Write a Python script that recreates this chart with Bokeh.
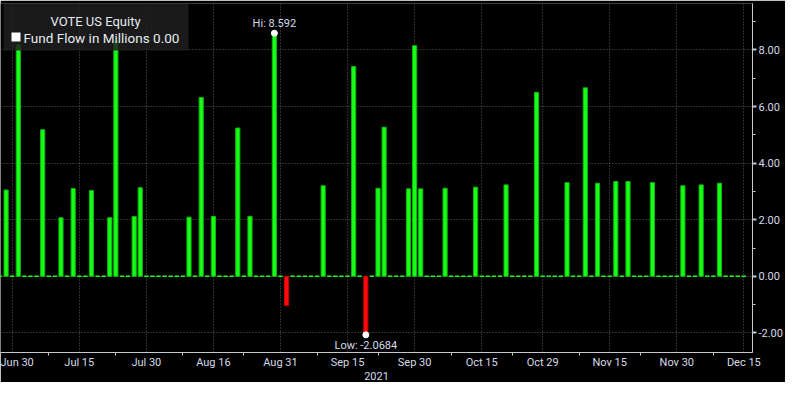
import numpy as np
import pandas as pd
from bokeh.plotting import figure
from bokeh.models import (Range1d, FixedTicker, NumeralTickFormatter, BoxAnnotation,
                          Label, ColumnDataSource)
from bokeh.core.properties import value
from bokeh.embed import file_html
from bokeh.resources import INLINE

# ---------------- data ----------------
security = "VOTE US Equity"
series_name = "Fund Flow in Millions"
last_value = 0.00
year_label = "2021"
series_start = "2021-06-28"
series_end = "2021-12-15"

flow_dates = ["2021-06-29", "2021-07-01", "2021-07-07", "2021-07-12", "2021-07-14",
              "2021-07-19", "2021-07-22", "2021-07-23", "2021-07-28", "2021-07-29",
              "2021-08-10", "2021-08-12", "2021-08-16", "2021-08-20", "2021-08-24",
              "2021-08-30", "2021-09-01", "2021-09-09", "2021-09-16", "2021-09-20",
              "2021-09-22", "2021-09-23", "2021-09-29", "2021-09-30", "2021-10-01",
              "2021-10-07", "2021-10-14", "2021-10-21", "2021-10-28", "2021-11-04",
              "2021-11-09", "2021-11-11", "2021-11-16", "2021-11-18", "2021-11-24",
              "2021-12-01", "2021-12-06", "2021-12-09"]
flow_values = [3.05, 8.19, 5.18, 2.07, 3.10,
               3.03, 2.07, 8.33, 2.11, 3.13,
               2.09, 6.32, 2.12, 5.24, 2.12,
               8.592, -1.04, 3.20, 7.41, -2.0684,
               3.11, 5.27, 3.09, 8.15, 3.09,
               3.11, 3.15, 3.23, 6.50, 3.31,
               6.66, 3.29, 3.35, 3.35, 3.31,
               3.20, 3.23, 3.29]

tick_dates = ["2021-06-30", "2021-07-15", "2021-07-30", "2021-08-16", "2021-08-31",
              "2021-09-15", "2021-09-30", "2021-10-15", "2021-10-29", "2021-11-15",
              "2021-11-30", "2021-12-15"]
tick_labels = ["Jun 30", "Jul 15", "Jul 30", "Aug 16", "Aug 31", "Sep 15", "Sep 30",
               "Oct 15", "Oct 29", "Nov 15", "Nov 30", "Dec 15"]
minor_tick_dates = ["2021-07-08", "2021-07-23", "2021-08-09", "2021-08-23", "2021-09-08",
                    "2021-09-22", "2021-10-08", "2021-10-22", "2021-11-08", "2021-11-22",
                    "2021-12-08"]
y_ticks = [-2, 0, 2, 4, 6, 8]
y_minor_ticks = [-3, -1, 1, 3, 5, 7, 9]

# ---------------- styling ----------------
FONT = "Roboto"
BG = "#000000"
GREEN = "#17ff17"
GREEN_EDGE = "#0db80d"
RED = "#ff0a0a"
TEXT = "#d4dbe6"
GRID = "#5c5c5c"
AXIS = "#c4c8cf"

origin = tick_dates[0]


def wd(d):
    """weekday (trading-calendar) position relative to origin"""
    return int(np.busday_count(origin, d))


# flows
fx = [wd(d) for d in flow_dates]
colors = [GREEN if v >= 0 else RED for v in flow_values]
edges = [GREEN_EDGE if v >= 0 else "#c00000" for v in flow_values]
src = ColumnDataSource(dict(x=fx, top=flow_values, color=colors, edge=edges))

# zero-flow days
all_days = [d.strftime("%Y-%m-%d") for d in pd.bdate_range(series_start, series_end)]
zero_days = [d for d in all_days if d not in flow_dates]
zx = np.array([wd(d) for d in zero_days], dtype=float)
zsrc = ColumnDataSource(dict(x0=zx - 0.36, x1=zx + 0.36, y=np.zeros(len(zx))))

FW, FH = 752, 349
p = figure(frame_width=FW, frame_height=FH, output_backend="svg",
           toolbar_location=None, y_axis_location="right",
           x_range=Range1d(-1.92, 121.42), y_range=Range1d(-2.692, 9.64),
           min_border_left=0, min_border_top=3, min_border_bottom=28, min_border_right=32)
p.background_fill_color = BG
p.border_fill_color = BG
p.outline_line_color = None

# grids
for g in (p.xgrid, p.ygrid):
    g.grid_line_color = GRID
    g.grid_line_dash = "1 2"
    g.grid_line_width = 1

# x axis
xt = [wd(d) for d in tick_dates]
xm = [wd(d) for d in minor_tick_dates]
p.xaxis.ticker = FixedTicker(ticks=xt, minor_ticks=xm)
p.xaxis.major_label_overrides = {int(k): lab for k, lab in zip(xt, tick_labels)}
p.xaxis.major_label_standoff = 0
p.xaxis.major_tick_out = 0
p.xaxis.major_tick_in = 0
p.xaxis.minor_tick_out = 3
p.xaxis.minor_tick_in = 0
p.xaxis.axis_label = year_label
p.xaxis.axis_label_standoff = 0
p.xaxis.axis_label_text_font = FONT
p.xaxis.axis_label_text_font_size = "11px"
p.xaxis.axis_label_text_font_style = "normal"
p.xaxis.axis_label_text_color = TEXT

# y axis
p.yaxis.ticker = FixedTicker(ticks=y_ticks, minor_ticks=y_minor_ticks)
p.yaxis.formatter = NumeralTickFormatter(format="0.00")
p.yaxis.major_tick_out = 4
p.yaxis.major_tick_in = 0
p.yaxis.major_tick_line_width = 2
p.yaxis.minor_tick_out = 3
p.yaxis.minor_tick_in = 0
p.yaxis.major_label_standoff = 2

for ax in (p.xaxis, p.yaxis):
    ax.axis_line_color = AXIS
    ax.major_tick_line_color = AXIS
    ax.minor_tick_line_color = AXIS
    ax.major_label_text_color = TEXT
    ax.major_label_text_font = FONT
    ax.major_label_text_font_size = "11px"

# zero dashes and bars
p.segment(x0="x0", x1="x1", y0="y", y1="y", source=zsrc, line_color=GREEN, line_width=1.5)
p.vbar(x="x", top="top", bottom=0, width=0.68, source=src,
       fill_color="color", line_color="edge", line_width=1)

# hi / low markers
vals = np.array(flow_values)
ih, il = int(vals.argmax()), int(vals.argmin())
p.scatter([fx[ih], fx[il]], [flow_values[ih], flow_values[il]], size=6,
          fill_color="white", line_color="white")
p.text([fx[ih]], [flow_values[ih]], text=[f"Hi: {flow_values[ih]}"],
       text_align="center", text_baseline="bottom", y_offset=-3,
       text_color=TEXT, text_font=value(FONT), text_font_size="11px")
p.text([fx[il]], [flow_values[il]], text=[f"Low: {flow_values[il]}"],
       text_align="center", text_baseline="top", y_offset=4,
       text_color=TEXT, text_font=value(FONT), text_font_size="11px")

# legend box
p.add_layout(BoxAnnotation(left=3, right=188, top=FH, bottom=FH - 47,
                           left_units="screen", right_units="screen",
                           top_units="screen", bottom_units="screen",
                           fill_color="#1e1e1e", fill_alpha=0.85, line_color=None))
p.add_layout(BoxAnnotation(left=11, right=20, top=FH - 29, bottom=FH - 38,
                           left_units="screen", right_units="screen",
                           top_units="screen", bottom_units="screen",
                           fill_color="white", fill_alpha=1.0, line_color=None))
p.add_layout(Label(x=95, y=FH - 18, x_units="screen", y_units="screen", text=security,
                   text_align="center", text_baseline="middle", text_color="#e6ebf0",
                   text_font=FONT, text_font_size="13px"))
p.add_layout(Label(x=23, y=FH - 34, x_units="screen", y_units="screen",
                   text=f"{series_name} {last_value:.2f}",
                   text_align="left", text_baseline="middle", text_color="#e6ebf0",
                   text_font=FONT, text_font_size="13.5px"))

open("out.html", "w").write(file_html(p, INLINE))
